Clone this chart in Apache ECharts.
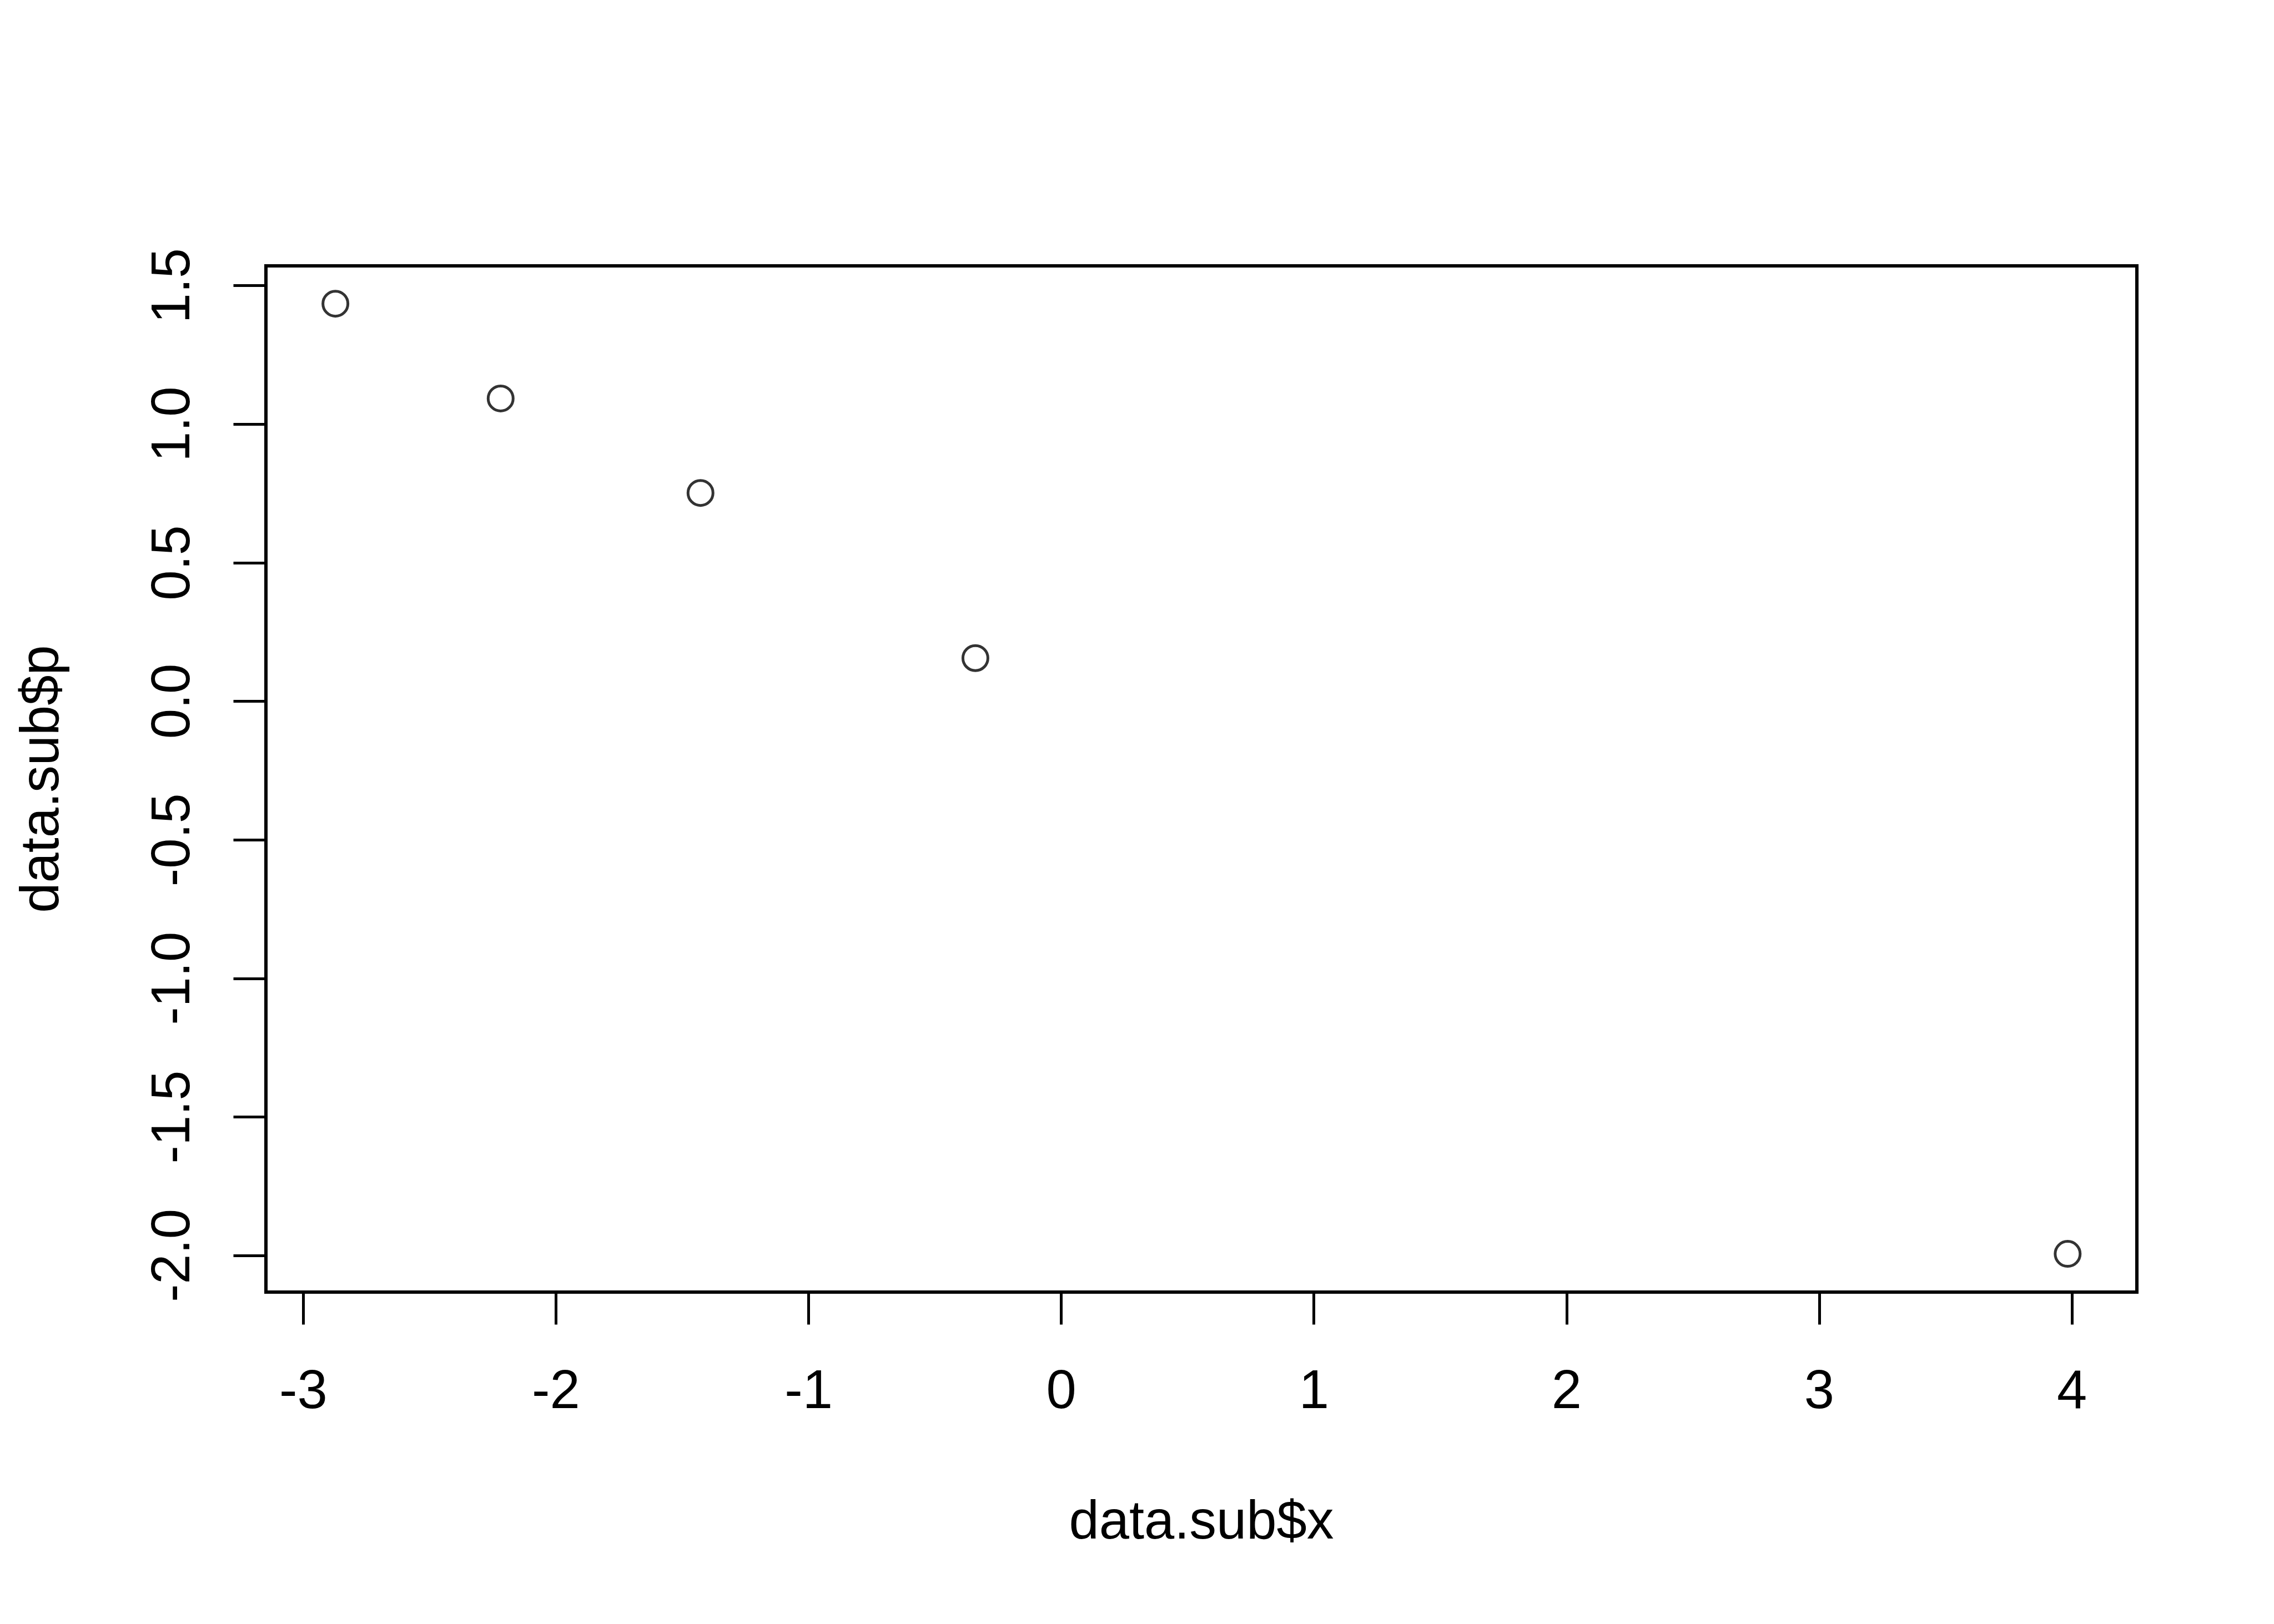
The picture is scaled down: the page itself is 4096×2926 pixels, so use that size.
<!DOCTYPE html>
<html>
<head>
<meta charset="utf-8">
<script src="https://cdn.jsdelivr.net/npm/echarts@6/dist/echarts.min.js"></script>
<style>
  html, body { margin: 0; padding: 0; background: #fff; }
  #main { width: 4096px; height: 2926px; }
</style>
</head>
<body>
<div id="main"></div>
<script>
// values
var xValues = [-2.873, -2.219, -1.428, -0.340, 3.983];
var pValues = [1.435, 1.093, 0.752, 0.156, -1.994];
var xTicks = [-3, -2, -1, 0, 1, 2, 3, 4];
var pTicks = [-2.0, -1.5, -1.0, -0.5, 0.0, 0.5, 1.0, 1.5];

var points = xValues.map(function (x, i) { return [x, pValues[i]]; });

var font = "'Liberation Sans', Arial, Helvetica, sans-serif";

var chart = echarts.init(document.getElementById("main"));
chart.setOption({
  backgroundColor: "#fff",
  animation: false,
  grid: {
    left: 479,
    top: 479,
    right: 247,
    bottom: 598,
    show: true,
    borderColor: "#000",
    borderWidth: 6,
    backgroundColor: "transparent",
  },
  xAxis: {
    type: "value",
    min: -3.148,
    max: 4.257,
    name: "data.sub$x",
    nameLocation: "middle",
    nameGap: 368,
    nameTextStyle: { color: "#000", fontSize: 97.5, fontFamily: font },
    axisLine: { show: false, onZero: false },
    splitLine: { show: false },
    axisTick: {
      show: true,
      inside: false,
      length: 58.5,
      customValues: xTicks,
      lineStyle: { color: "#000", width: 5 },
    },
    axisLabel: {
      customValues: xTicks,
      margin: 133,
      color: "#000",
      fontSize: 97.5,
      fontFamily: font,
      formatter: function (v) { return String(v); },
    },
  },
  yAxis: {
    type: "value",
    min: -2.132,
    max: 1.5715,
    name: "data.sub$p",
    nameLocation: "middle",
    nameRotate: 90,
    nameGap: 352,
    nameTextStyle: { color: "#000", fontSize: 97.5, fontFamily: font },
    axisLine: { show: false, onZero: false },
    splitLine: { show: false },
    axisTick: {
      show: true,
      inside: false,
      length: 58.5,
      customValues: pTicks,
      lineStyle: { color: "#000", width: 5 },
    },
    axisLabel: {
      customValues: pTicks,
      rotate: 90,
      margin: 116,
      color: "#000",
      fontSize: 97.5,
      fontFamily: font,
      formatter: function (v) { return v.toFixed(1); },
    },
  },
  series: [
    {
      type: "scatter",
      data: points,
      symbol: "circle",
      symbolSize: 45,
      itemStyle: {
        color: "rgba(0,0,0,0)",
        borderColor: "#000",
        borderWidth: 5,
      },
    },
  ],
});
</script>
</body>
</html>
